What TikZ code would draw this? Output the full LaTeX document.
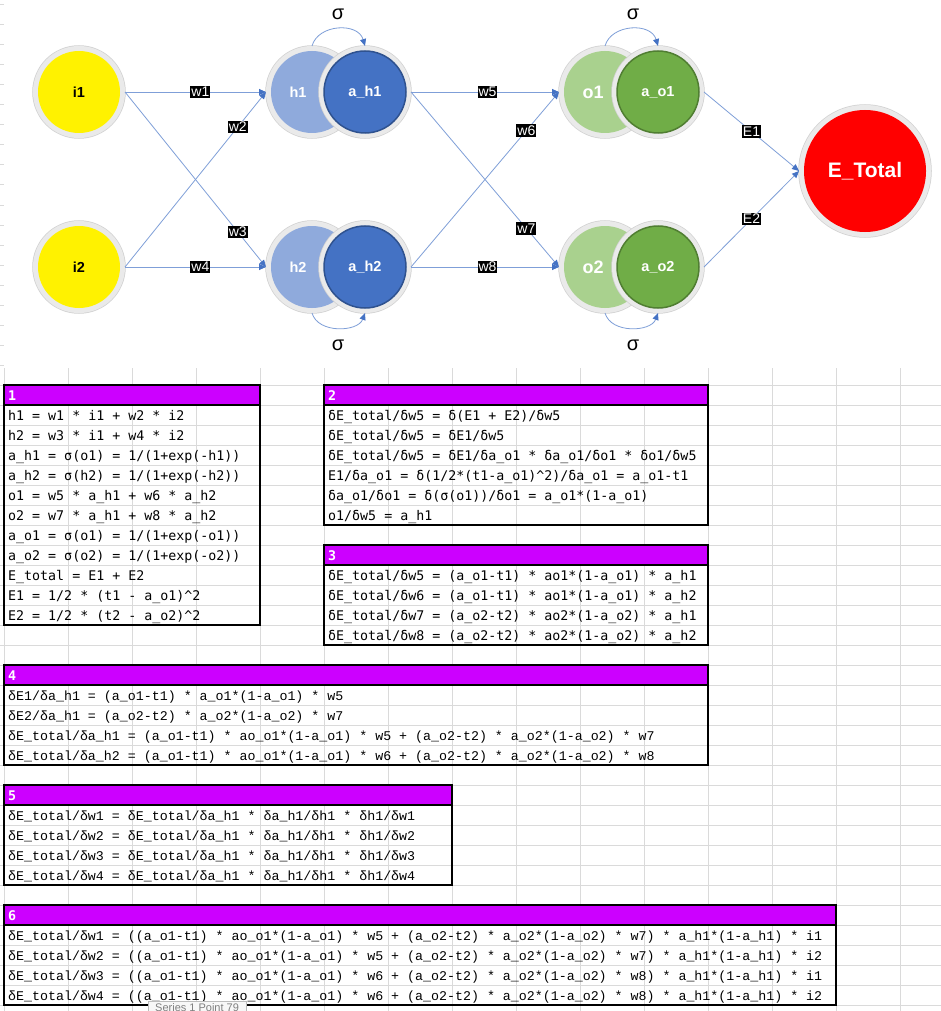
\documentclass[tikz,border=0pt]{standalone}
\usepackage{fontspec}
\usepackage{tikz}
\usetikzlibrary{arrows.meta}
\setmainfont{Liberation Sans}
\newfontfamily\tabfont{DejaVu Sans Mono}
\newfontfamily\tabfontb{Liberation Mono}
\definecolor{ringgray}{HTML}{EAEAEA}
\definecolor{ringedge}{HTML}{D2D2D2}
\definecolor{hidlight}{HTML}{8FAADC}
\definecolor{hiddark}{HTML}{4472C4}
\definecolor{hidline}{HTML}{2F528F}
\definecolor{outlight}{HTML}{A9D18E}
\definecolor{outdark}{HTML}{70AD47}
\definecolor{outline}{HTML}{507E32}
\definecolor{edgeblue}{HTML}{7F9FD8}
\definecolor{tipblue}{HTML}{4472C4}
\definecolor{headpurple}{HTML}{CC00FF}
\definecolor{gridgray}{HTML}{DADADA}
\definecolor{tipedge}{HTML}{BCBCBC}
\definecolor{tipfill}{HTML}{F7F7F7}
\definecolor{tiptext}{HTML}{7F7F7F}

\begin{document}
\begin{tikzpicture}[x=1pt, y=-1pt,
  neuron/.style={circle, minimum size=82pt, inner sep=0pt, outer sep=5pt, preaction={draw=ringedge, line width=11.5pt}, preaction={draw=ringgray, line width=10pt}, text=white, font=\fontsize{14.5}{17}\selectfont\bfseries},
  innode/.style={neuron, fill=yellow, text=black},
  hidnode/.style={neuron, fill=hidlight},
  hidact/.style={neuron, fill=hiddark, draw=hidline, line width=1.5pt},
  outnode/.style={neuron, fill=outlight, font=\fontsize{18}{21}\selectfont\bfseries},
  outact/.style={neuron, fill=outdark, draw=outline, line width=1.5pt},
  errnode/.style={neuron, minimum size=122pt, fill=red, font=\fontsize{21}{24}\selectfont\bfseries},
  link/.style={draw=edgeblue, line width=0.8pt, -{Triangle[length=7pt, width=6pt, color=tipblue]}},
  wlab/.style={fill=black, text=white, inner xsep=1pt, inner ysep=1.5pt, font=\fontsize{14}{16}\selectfont},
  sig/.style={inner sep=0pt, font=\fontsize{20}{22}\selectfont},
  gridline/.style={draw=gridgray, line width=1pt},
  headbox/.style={fill=headpurple, draw=black, line width=1.2pt},
  bodybox/.style={draw=black, line width=1.2pt},
  headtxt/.style={anchor=base west, inner sep=0pt, text=white, font=\tabfont\fontsize{13.3}{16}\selectfont\bfseries},
  rowtxt/.style={anchor=base west, inner sep=0pt, font=\tabfont\fontsize{13.3}{16}\selectfont},
  rowtxtb/.style={anchor=base west, inner sep=0pt, font=\tabfontb\fontsize{13.3}{16}\selectfont},
  tipbox/.style={anchor=north west, draw=tipedge, fill=tipfill, text=tiptext, inner xsep=7pt, inner ysep=2pt, font=\fontsize{11}{13}\selectfont}]
\useasboundingbox (0,0) rectangle (941,1011);

\foreach \gy in {5,25,...,1005} \draw[gridline] (0,\gy) -- (941,\gy);
\foreach \gx in {4,68,...,900} \draw[gridline] (\gx,368) -- (\gx,1011);
\fill[white] (4,0) rectangle (941,368);

\node[innode] (i1) at (79,92) {i1};
\node[innode] (i2) at (79,267) {i2};
\node[hidnode] (h1) at (312,92) {h1\kern28pt};
\node[hidact] (ah1) at (365,92) {a\_h1};
\node[hidnode] (h2) at (312,267) {h2\kern28pt};
\node[hidact] (ah2) at (365,267) {a\_h2};
\node[outnode] (o1) at (605,92) {o1\kern24pt};
\node[outact] (ao1) at (658,92) {a\_o1};
\node[outnode] (o2) at (605,267) {o2\kern24pt};
\node[outact] (ao2) at (658,267) {a\_o2};
\node[errnode] (etotal) at (865,171) {E\_Total};

\node[sig] (sig1) at (338,14) {σ};
\node[sig] (sig2) at (338,345) {σ};
\node[sig] (sig3) at (633,14) {σ};
\node[sig] (sig4) at (633,345) {σ};

\path (i1.east) edge[link] node[wlab, pos=.535, name=lw1] {w1} (h1.west);
\path (i2.east) edge[link] node[wlab, pos=.8, name=lw2] {w2} (h1.west);
\path (i1.east) edge[link] node[wlab, pos=.8, name=lw3] {w3} (h2.west);
\path (i2.east) edge[link] node[wlab, pos=.535, name=lw4] {w4} (h2.west);
\path (ah1.east) edge[link] node[wlab, pos=.517, name=lw5] {w5} (o1.west);
\path (ah2.east) edge[link] node[wlab, pos=.78, name=lw6] {w6} (o1.west);
\path (ah1.east) edge[link] node[wlab, pos=.78, name=lw7] {w7} (o2.west);
\path (ah2.east) edge[link] node[wlab, pos=.517, name=lw8] {w8} (o2.west);
\path (ao1.east) edge[link] node[wlab, pos=.5, name=le1] {E1} (etotal.west);
\path (ao2.east) edge[link] node[wlab, pos=.5, name=le2] {E2} (etotal.west);

\draw[link] (h1.north) .. controls (318,24) and (358,22) .. (ah1.north);
\draw[link] (h2.south) .. controls (318,334) and (358,332) .. (ah2.south);
\draw[link] (o1.north) .. controls (611,24) and (651,22) .. (ao1.north);
\draw[link] (o2.south) .. controls (611,334) and (651,332) .. (ao2.south);

\draw[headbox] (4,385) rectangle (260,405);
\draw[bodybox] (4,405) rectangle (260,625);
\node[headtxt] (hd1) at (8,400.5) {1};
\node[rowtxt] (r1a) at (8,420.5) {h1 = w1 * i1 + w2 * i2};
\node[rowtxt] (r1b) at (8,440.5) {h2 = w3 * i1 + w4 * i2};
\node[rowtxt] (r1c) at (8,460.5) {a\_h1 = σ(o1) = 1/(1+exp(-h1))};
\node[rowtxt] (r1d) at (8,480.5) {a\_h2 = σ(h2) = 1/(1+exp(-h2))};
\node[rowtxt] (r1e) at (8,500.5) {o1 = w5 * a\_h1 + w6 * a\_h2};
\node[rowtxt] (r1f) at (8,520.5) {o2 = w7 * a\_h1 + w8 * a\_h2};
\node[rowtxt] (r1g) at (8,540.5) {a\_o1 = σ(o1) = 1/(1+exp(-o1))};
\node[rowtxt] (r1h) at (8,560.5) {a\_o2 = σ(o2) = 1/(1+exp(-o2))};
\node[rowtxt] (r1i) at (8,580.5) {E\_total = E1 + E2};
\node[rowtxt] (r1j) at (8,600.5) {E1 = 1/2 * (t1 - a\_o1)\textasciicircum 2};
\node[rowtxt] (r1k) at (8,620.5) {E2 = 1/2 * (t2 - a\_o2)\textasciicircum 2};

\draw[headbox] (324,385) rectangle (708,405);
\draw[bodybox] (324,405) rectangle (708,525);
\node[headtxt] (hd2) at (328,400.5) {2};
\node[rowtxt] (r2a) at (328,420.5) {δE\_total/δw5 = δ(E1 + E2)/δw5};
\node[rowtxt] (r2b) at (328,440.5) {δE\_total/δw5 = δE1/δw5};
\node[rowtxt] (r2c) at (328,460.5) {δE\_total/δw5 = δE1/δa\_o1 * δa\_o1/δo1 * δo1/δw5};
\node[rowtxt] (r2d) at (328,480.5) {E1/δa\_o1 = δ(1/2*(t1-a\_o1)\textasciicircum 2)/δa\_o1 = a\_o1-t1};
\node[rowtxt] (r2e) at (328,500.5) {δa\_o1/δo1 = δ(σ(o1))/δo1 = a\_o1*(1-a\_o1)};
\node[rowtxt] (r2f) at (328,520.5) {o1/δw5 = a\_h1};

\draw[headbox] (324,545) rectangle (708,565);
\draw[bodybox] (324,565) rectangle (708,645);
\node[headtxt] (hd3) at (328,560.5) {3};
\node[rowtxt] (r3a) at (328,580.5) {δE\_total/δw5 = (a\_o1-t1) * ao1*(1-a\_o1) * a\_h1};
\node[rowtxt] (r3b) at (328,600.5) {δE\_total/δw6 = (a\_o1-t1) * ao1*(1-a\_o1) * a\_h2};
\node[rowtxt] (r3c) at (328,620.5) {δE\_total/δw7 = (a\_o2-t2) * ao2*(1-a\_o2) * a\_h1};
\node[rowtxt] (r3d) at (328,640.5) {δE\_total/δw8 = (a\_o2-t2) * ao2*(1-a\_o2) * a\_h2};

\draw[headbox] (4,665) rectangle (708,685);
\draw[bodybox] (4,685) rectangle (708,765);
\node[headtxt] (hd4) at (8,680.5) {4};
\node[rowtxtb] (r4a) at (8,700.5) {δE1/δa\_h1 = (a\_o1-t1) * a\_o1*(1-a\_o1) * w5};
\node[rowtxtb] (r4b) at (8,720.5) {δE2/δa\_h1 = (a\_o2-t2) * a\_o2*(1-a\_o2) * w7};
\node[rowtxtb] (r4c) at (8,740.5) {δE\_total/δa\_h1 = (a\_o1-t1) * ao\_o1*(1-a\_o1) * w5 + (a\_o2-t2) * a\_o2*(1-a\_o2) * w7};
\node[rowtxtb] (r4d) at (8,760.5) {δE\_total/δa\_h2 = (a\_o1-t1) * ao\_o1*(1-a\_o1) * w6 + (a\_o2-t2) * a\_o2*(1-a\_o2) * w8};

\draw[headbox] (4,785) rectangle (452,805);
\draw[bodybox] (4,805) rectangle (452,885);
\node[headtxt] (hd5) at (8,800.5) {5};
\node[rowtxtb] (r5a) at (8,820.5) {δE\_total/δw1 = δE\_total/δa\_h1 * δa\_h1/δh1 * δh1/δw1};
\node[rowtxtb] (r5b) at (8,840.5) {δE\_total/δw2 = δE\_total/δa\_h1 * δa\_h1/δh1 * δh1/δw2};
\node[rowtxtb] (r5c) at (8,860.5) {δE\_total/δw3 = δE\_total/δa\_h1 * δa\_h1/δh1 * δh1/δw3};
\node[rowtxtb] (r5d) at (8,880.5) {δE\_total/δw4 = δE\_total/δa\_h1 * δa\_h1/δh1 * δh1/δw4};

\draw[headbox] (4,905) rectangle (836,925);
\draw[bodybox] (4,925) rectangle (836,1005);
\node[headtxt] (hd6) at (8,920.5) {6};
\node[rowtxtb] (r6a) at (8,940.5) {δE\_total/δw1 = ((a\_o1-t1) * ao\_o1*(1-a\_o1) * w5 + (a\_o2-t2) * a\_o2*(1-a\_o2) * w7) * a\_h1*(1-a\_h1) * i1};
\node[rowtxtb] (r6b) at (8,960.5) {δE\_total/δw2 = ((a\_o1-t1) * ao\_o1*(1-a\_o1) * w5 + (a\_o2-t2) * a\_o2*(1-a\_o2) * w7) * a\_h1*(1-a\_h1) * i2};
\node[rowtxtb] (r6c) at (8,980.5) {δE\_total/δw3 = ((a\_o1-t1) * ao\_o1*(1-a\_o1) * w6 + (a\_o2-t2) * a\_o2*(1-a\_o2) * w8) * a\_h1*(1-a\_h1) * i1};
\node[rowtxtb] (r6d) at (8,1000.5) {δE\_total/δw4 = ((a\_o1-t1) * ao\_o1*(1-a\_o1) * w6 + (a\_o2-t2) * a\_o2*(1-a\_o2) * w8) * a\_h1*(1-a\_h1) * i2};

\node[tipbox] (tooltip) at (148,1001) {Series 1 Point 79};
\end{tikzpicture}
\end{document}
